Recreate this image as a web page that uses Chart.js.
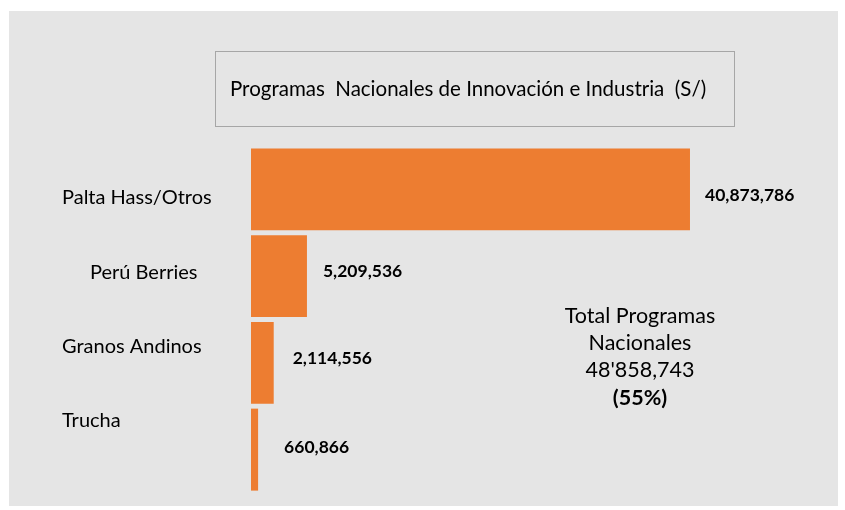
<!DOCTYPE html>
<html>
<head>
<meta charset="utf-8">
<script src="https://cdn.jsdelivr.net/npm/chart.js@4.4.0/dist/chart.umd.min.js"></script>
<style>
  html, body { margin: 0; padding: 0; background: #fff; }
  #wrap { width: 845px; height: 510px; }
</style>
</head>
<body>
<div id="wrap"><canvas id="chart" width="845" height="510"></canvas></div>
<script>
// Datos del gráfico
const categories = ['Palta Hass/Otros', 'Perú Berries', 'Granos Andinos', 'Trucha'];
const montos = [40873786, 5209536, 2114556, 660866];
const titulo = 'Programas  Nacionales de Innovación e Industria  (S/)';
const totalLineas = ['Total Programas', 'Nacionales', "48'858,743"];
const totalPct = '(55%)';

const FONT = 'Lato, "Open Sans", sans-serif';
const naranja = '#ED7D31';

const fmt = n => n.toLocaleString('en-US');

// Fondo gris, caja de título y textos sueltos
const decoracion = {
    id: 'decoracion',
    beforeDraw(chart) {
        const { ctx } = chart;
        ctx.save();
        ctx.fillStyle = '#ffffff';
        ctx.fillRect(0, 0, chart.width, chart.height);
        ctx.fillStyle = '#e5e5e5';
        ctx.fillRect(9, 11, 829, 495);
        // caja del título
        ctx.strokeStyle = '#a6a6a6';
        ctx.lineWidth = 1;
        ctx.strokeRect(215.5, 51.5, 519, 75);
        ctx.fillStyle = '#000';
        ctx.font = `20.5px ${FONT}`;
        ctx.textBaseline = 'middle';
        ctx.textAlign = 'left';
        ctx.fillText(titulo, 230, 89);
        ctx.restore();
    },
    afterDatasetsDraw(chart) {
        const { ctx } = chart;
        const meta = chart.getDatasetMeta(0);
        const yScale = chart.scales.y;
        ctx.save();
        ctx.fillStyle = '#000';
        ctx.textBaseline = 'middle';

        // etiquetas de categoría (a la izquierda, como en el original)
        const catX = [62, 90, 62, 62];
        const catDy = [8, -4, -16, -29];
        ctx.font = `20px ${FONT}`;
        ctx.textAlign = 'left';
        categories.forEach((c, i) => {
            ctx.fillText(c, catX[i], yScale.getPixelForValue(i) + catDy[i]);
        });

        // valores al final de cada barra
        const valDx = [15, 16, 19, 26];
        const valDy = [6, -5, -5, -2];
        ctx.font = `bold 17.5px ${FONT}`;
        meta.data.forEach((bar, i) => {
            ctx.fillText(fmt(montos[i]), bar.x + valDx[i], bar.y + valDy[i]);
        });

        // total
        ctx.textAlign = 'center';
        ctx.font = `21.5px ${FONT}`;
        totalLineas.forEach((t, i) => ctx.fillText(t, 640, 316 + i * 27));
        ctx.font = `bold 21.5px ${FONT}`;
        ctx.fillText(totalPct, 640, 398);
        ctx.restore();
    }
};

new Chart(document.getElementById('chart'), {
    type: 'bar',
    data: {
        labels: categories,
        datasets: [{
            label: 'Monto (S/)',
            data: montos,
            backgroundColor: naranja,
            borderWidth: 0,
            barPercentage: 1,
            categoryPercentage: 0.945
        }]
    },
    options: {
        indexAxis: 'y',
        responsive: false,
        animation: false,
        layout: { padding: { left: 251, right: 57, top: 146, bottom: 17 } },
        plugins: {
            legend: { display: false },
            tooltip: { enabled: false },
            title: { display: false }
        },
        scales: {
            x: { display: false, min: 0, max: 50000000 },
            y: { display: false }
        }
    },
    plugins: [decoracion]
});
</script>
</body>
</html>
